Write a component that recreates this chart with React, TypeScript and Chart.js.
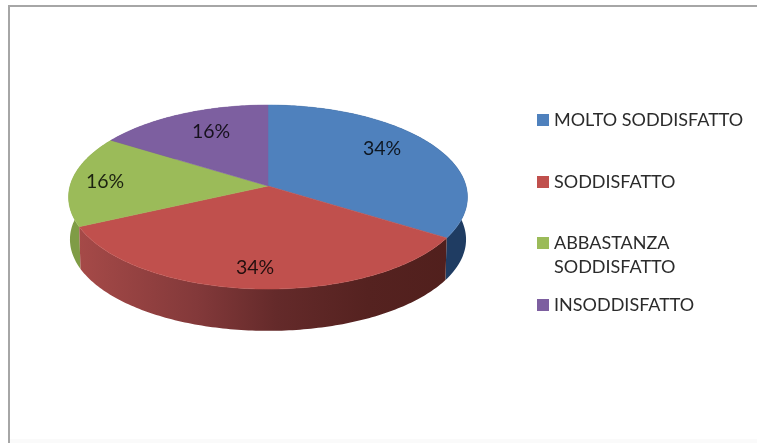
import React, { useEffect, useRef } from "react";
import { Chart, registerables } from "chart.js";

Chart.register(...registerables);

const categories: (string | string[])[] = [
  "MOLTO SODDISFATTO",
  "SODDISFATTO",
  ["ABBASTANZA", "SODDISFATTO"],
  "INSODDISFATTO",
];
const percentages = [34, 34, 16, 16];
const topColors = ["#4f81bd", "#c0504d", "#9bbb59", "#7d5fa0"];

// Pie plane projection (Excel-style perspective)
const VIEW = { cx: 268, cy: 186, rx: 198, ry: 90.7, q: 0.12 };
const FLOOR = { dy: 42.5, scale: 0.993 };
const SIDE_STOPS: [number, string][][] = [
  [[0, "#1f3c62"], [1, "#1f3c62"]],
  [[0, "#a84b49"], [0.32, "#83393a"], [0.52, "#642a2a"], [0.75, "#552220"], [1, "#501f1c"]],
  [[0, "#7f9c46"], [1, "#7f9c46"]],
  [[0, "#5e4678"], [1, "#5e4678"]],
];
const PAINT_ORDER = [3, 2, 0, 1];
const LABEL_POS = [
  [382, 149],
  [255, 268],
  [105, 182],
  [211, 132],
];
const LEGEND_BOX_X = 537;
const LEGEND_TEXT_X = 554;
const LEGEND_ROWS = [120, 182, 243, 305];
const FONT = "Lato, 'Open Sans', sans-serif";

const project = (a: number, floor = false) => {
  const u = Math.cos(a);
  const v = Math.sin(a);
  const w = 1 - VIEW.q * v;
  const s = floor ? FLOOR.scale : 1;
  return [
    VIEW.cx + (s * VIEW.rx * u) / w,
    VIEW.cy + (floor ? FLOOR.dy : 0) + (s * VIEW.ry * v) / w,
  ];
};

const rim = (start: number, end: number, floor = false) => {
  const pts: number[][] = [];
  const n = Math.max(2, Math.ceil((end - start) * 60));
  for (let i = 0; i <= n; i++) pts.push(project(start + ((end - start) * i) / n, floor));
  return pts;
};

const pie3d = {
  id: "pie3d",
  beforeDatasetDraw(chart: any, args: any) {
    const ctx: CanvasRenderingContext2D = chart.ctx;
    const arcs = args.meta.data;
    ctx.save();
    // sides
    PAINT_ORDER.forEach((i) => {
      const { startAngle, endAngle } = arcs[i];
      const top = rim(startAngle, endAngle);
      const low = rim(startAngle, endAngle, true).reverse();
      const grad = ctx.createLinearGradient(70, 0, 467, 0);
      SIDE_STOPS[i].forEach(([o, c]) => grad.addColorStop(o, c));
      ctx.fillStyle = grad;
      ctx.beginPath();
      [...top, ...low].forEach(([x, y], k) => (k ? ctx.lineTo(x, y) : ctx.moveTo(x, y)));
      ctx.closePath();
      ctx.fill();
    });
    // top surface
    arcs.forEach((arc: any, i: number) => {
      ctx.fillStyle = topColors[i];
      ctx.strokeStyle = topColors[i];
      ctx.lineWidth = 0.5;
      ctx.beginPath();
      ctx.moveTo(VIEW.cx, VIEW.cy);
      rim(arc.startAngle, arc.endAngle).forEach(([x, y]) => ctx.lineTo(x, y));
      ctx.closePath();
      ctx.fill();
      ctx.stroke();
    });
    // value labels
    ctx.font = `19.5px ${FONT}`;
    ctx.textAlign = "center";
    ctx.textBaseline = "middle";
    ctx.fillStyle = "rgba(0,0,0,0.82)";
    percentages.forEach((p, i) => ctx.fillText(`${p}%`, LABEL_POS[i][0], LABEL_POS[i][1]));
    ctx.restore();
    return false;
  },
  afterDraw(chart: any) {
    const ctx: CanvasRenderingContext2D = chart.ctx;
    ctx.save();
    ctx.font = `18px ${FONT}`;
    ctx.textAlign = "left";
    ctx.textBaseline = "middle";
    categories.forEach((label, i) => {
      const y = LEGEND_ROWS[i];
      ctx.fillStyle = topColors[i];
      ctx.fillRect(LEGEND_BOX_X, y - 6, 12, 12);
      ctx.fillStyle = "#2b2b2b";
      const lines = Array.isArray(label) ? label : [label];
      lines.forEach((t, k) => ctx.fillText(t, LEGEND_TEXT_X, y + k * 24));
    });
    ctx.restore();
  },
};

const frame = {
  id: "frame",
  beforeDraw(chart: any) {
    const ctx: CanvasRenderingContext2D = chart.ctx;
    ctx.save();
    ctx.fillStyle = "#ffffff";
    ctx.fillRect(0, 0, chart.width, chart.height);
    ctx.fillStyle = "#a6a6a6";
    ctx.fillRect(8, 5, chart.width - 8, 2);
    ctx.fillRect(8, 5, 2, chart.height - 5);
    ctx.fillStyle = "#fafafa";
    ctx.fillRect(10, 439, chart.width - 10, 4);
    ctx.restore();
  },
};

export default function App() {
  const ref = useRef<HTMLCanvasElement>(null);
  useEffect(() => {
    const chart = new Chart(ref.current as HTMLCanvasElement, {
      type: "pie",
      data: {
        labels: categories as any,
        datasets: [{ data: percentages, backgroundColor: topColors, borderWidth: 0 }],
      },
      options: {
        animation: false,
        responsive: false,
        devicePixelRatio: 1,
        plugins: { legend: { display: false }, tooltip: { enabled: false } },
      } as any,
      plugins: [frame, pie3d] as any,
    });
    return () => chart.destroy();
  }, []);
  return (
    <canvas
      ref={ref}
      width={757}
      height={443}
      style={{ position: "fixed", left: 0, top: 0, width: 757, height: 443, filter: "blur(0.55px)" }}
    />
  );
}
